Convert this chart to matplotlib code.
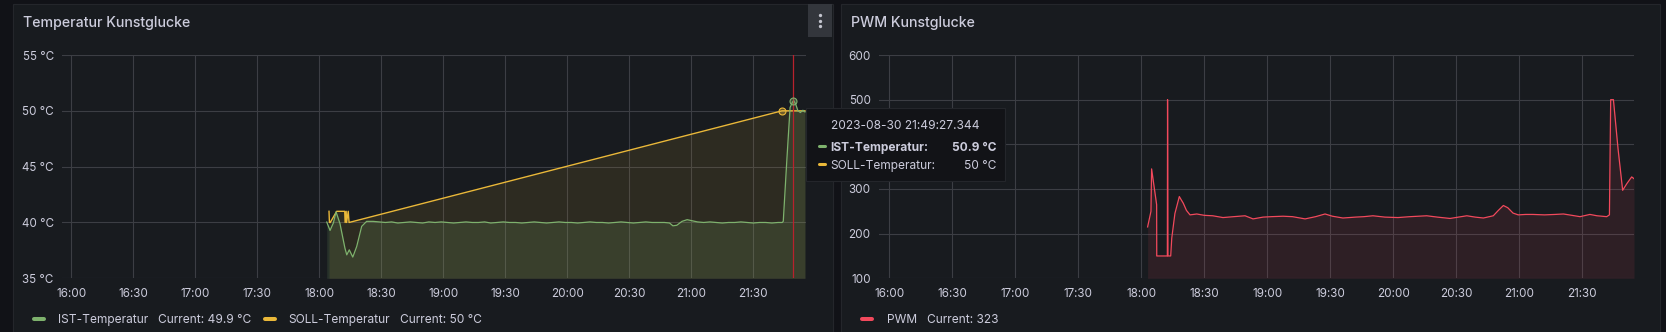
import matplotlib.pyplot as plt
from matplotlib.lines import Line2D
from matplotlib.patches import Rectangle
from matplotlib.ticker import FuncFormatter

# time axis: minutes after 16:00 on 2023-08-30
ist_time = [123.6, 125.2, 126.8, 128.1, 130.0, 132.4, 133.3, 134.5, 136.2, 138.1, 140.5, 142.9,
            146, 149, 152, 155, 158, 161, 164, 167, 170, 173,
            176, 179, 182, 185, 188, 191, 194, 197, 200, 203,
            206, 209, 212, 215, 218, 221, 224, 227, 230, 233,
            236, 239, 242, 245, 248, 251, 254, 257, 260, 263,
            266, 269, 272, 275, 278, 281, 284, 287,
            289.5, 291.1, 293.0, 295.5, 298.0, 300.5, 303,
            306, 309, 312, 315, 318, 321, 324, 327, 330, 333, 336, 339, 342,
            344.0, 344.5, 346.2, 347.8, 349.0, 349.6, 350.5, 351.6, 352.8, 354.0, 355.0]
ist_temp = [40.04, 39.29, 39.95, 40.95, 39.9, 37.7, 37.1, 37.55, 36.9, 37.85, 39.65, 40.1,
            40.10, 40.05, 40.00, 40.05, 39.95, 40.00, 40.05, 40.00, 39.95, 40.05,
            40.00, 40.05, 40.00, 39.95, 40.00, 40.05, 40.00, 40.00, 40.05, 39.95,
            40.00, 40.05, 40.00, 40.00, 39.95, 40.00, 40.05, 40.00, 39.95, 40.00,
            40.05, 40.00, 40.00, 39.95, 40.00, 40.05, 40.00, 40.00, 39.95, 40.00,
            40.05, 40.00, 39.95, 40.00, 40.05, 40.00, 40.00, 40.00,
            39.95, 39.7, 39.75, 40.1, 40.25, 40.15, 40.05,
            40.00, 40.05, 40.00, 39.95, 40.00, 40.00, 40.05, 40.00, 39.95, 40.00, 40.00, 39.95, 40.00,
            40.0, 40.1, 45.5, 50.3, 50.8, 50.9, 50.6, 50.0, 49.85, 50.05, 49.9]

soll_time = [124.7, 124.9, 125.3, 128.4, 132.3, 132.5, 133.0, 133.2, 134.0, 134.4, 343.9, 355.0]
soll_temp = [41.0, 40.0, 40.0, 41.0, 41.0, 40.0, 41.0, 40.0, 41.0, 40.0, 50.0, 50.0]

pwm_time = [123.0, 124.6, 124.9, 127.3, 127.35, 132.4, 132.5, 132.7, 134.0, 134.5, 136.0, 138.1,
            140.0, 141.5, 143.2, 146.4, 150, 154, 158.9, 164, 169.4, 173.2, 178, 182,
            187.5, 192, 198, 203, 207.5, 211, 216, 222, 226, 230.3, 236, 242.2,
            248, 255.9, 261, 267, 271, 275, 279, 282.9, 287.6, 290, 292.4, 294.5,
            297, 299.5, 303, 306.5, 312, 317, 321, 325, 328.9, 333.6, 337, 341.6,
            342.9, 343.5, 344.8, 347.0, 349.2, 351.2, 353.5, 354.6]
pwm_value = [215, 250, 345, 265, 150, 150, 500, 150, 150, 190, 245, 283,
             268, 252, 242, 244, 241, 240, 236, 238, 240, 233, 237, 238,
             239, 238, 233, 238, 244, 239, 235, 237, 238, 240, 237, 236,
             238, 240, 237, 234, 237, 240, 237, 235, 240, 252, 263, 258,
             246, 242, 243, 243, 242, 243, 244, 241, 238, 243, 240, 238,
             242, 500, 500, 390, 297, 312, 327, 323]

time_ticks = [0, 30, 60, 90, 120, 150, 180, 210, 240, 270, 300, 330]
temp_ticks = [35, 40, 45, 50, 55]
pwm_ticks = [100, 200, 300, 400, 500, 600]

hover_time = 349.45
hover_label = "2023-08-30 21:49:27.344"
hover_ist = 50.9
hover_soll = 50
soll_hover_time = 343.9

GREEN, YELLOW, RED = '#7EB26D', '#EAB839', '#F2495C'
PAGE, PANEL, GRID, TXT = '#111217', '#181b1f', '#3c3e44', '#ccccdc'

W, H = 1666, 332
plt.rcParams['font.family'] = ['Inter', 'DejaVu Sans']
fig = plt.figure(figsize=(W / 100, H / 100), dpi=100, facecolor=PAGE)


def fx(x):
    return x / W


def fy(y):
    return 1 - y / H


def rect(x0, y0, x1, y1, fc, ec='none', z=-1, lw=0.8):
    fig.add_artist(Rectangle((fx(x0), fy(y1)), fx(x1) - fx(x0), fy(y0) - fy(y1),
                             transform=fig.transFigure, fc=fc, ec=ec, lw=lw, zorder=z))


def swatch(x0, x1, y, color, lw=2.9, z=2):
    fig.add_artist(Line2D([fx(x0 + 2), fx(x1 - 2)], [fy(y), fy(y)], transform=fig.transFigure,
                          color=color, lw=lw, solid_capstyle='round', zorder=z))


# panels
rect(13, 4, 833, 345, PANEL, '#24262b')
rect(841, 4, 1660, 345, PANEL, '#24262b')
rect(808, 4, 832, 36.5, '#33363c', z=0)
for yy in (15.2, 20.6, 26.0):
    fig.add_artist(Line2D([fx(820)], [fy(yy)], marker='o', ms=2.4, color='#c4c5cf',
                          mec='none', transform=fig.transFigure))

fig.text(fx(22.7), fy(26.7), "Temperatur Kunstglucke", color=TXT, fontsize=10.2,
         fontweight='medium', va='baseline')
fig.text(fx(850.7), fy(26.7), "PWM Kunstglucke", color=TXT, fontsize=10.2,
         fontweight='medium', va='baseline')


def hhmm(m, pos=None):
    m = int(round(m))
    return f"{16 + m // 60:02d}:{m % 60:02d}"


def style(ax, xlim, ylim, yticks, yfmt):
    ax.set_facecolor('none')
    ax.set_xlim(*xlim)
    ax.set_ylim(*ylim)
    ax.set_xticks(time_ticks)
    ax.set_yticks(yticks)
    ax.xaxis.set_major_formatter(FuncFormatter(hhmm))
    ax.yaxis.set_major_formatter(FuncFormatter(yfmt))
    ax.grid(True, color=GRID, lw=0.8)
    ax.set_axisbelow(True)
    for s in ax.spines.values():
        s.set_visible(False)
    ax.tick_params(length=0, colors=TXT, labelsize=8.4)
    ax.tick_params(axis='x', pad=7)
    ax.tick_params(axis='y', pad=6)


ax1 = fig.add_axes([fx(62), fy(278.3), fx(806) - fx(62), fy(55) - fy(278.3)])
style(ax1, (-4.5, 355.5), (35, 55), temp_ticks, lambda v, p: f"{v:.0f} °C")
ax1.fill_between(soll_time, soll_temp, 35, color=YELLOW, alpha=0.10, lw=0)
ax1.fill_between(ist_time, ist_temp, 35, color=GREEN, alpha=0.15, lw=0)
ax1.plot(soll_time, soll_temp, color=YELLOW, lw=1.0)
ax1.plot(ist_time, ist_temp, color=GREEN, lw=0.9)
ax1.axvline(hover_time, color='#b8222d', lw=0.9)
ax1.plot([soll_hover_time], [hover_soll], 'o', ms=5, mfc=(0.92, 0.72, 0.22, 0.35), mec=YELLOW, mew=0.8)
ax1.plot([hover_time], [hover_ist], 'o', ms=5, mfc=(0.49, 0.70, 0.43, 0.35), mec=GREEN, mew=0.8)

ax2 = fig.add_axes([fx(879), fy(278.3), fx(1634) - fx(879), fy(55) - fy(278.3)])
style(ax2, (-4.9, 354.6), (100, 600), pwm_ticks, lambda v, p: f"{v:.0f}")
ax2.fill_between(pwm_time, pwm_value, 100, color=RED, alpha=0.10, lw=0)
ax2.plot(pwm_time, pwm_value, color=RED, lw=0.9)

# legends
swatch(32, 46, 319, GREEN)
fig.text(fx(58), fy(322.7), "IST-Temperatur", color=TXT, fontsize=8.6, va='baseline')
fig.text(fx(158), fy(322.7), f"Current: {ist_temp[-1]:.1f} °C", color=TXT, fontsize=8.6, va='baseline')
swatch(263, 277, 319, YELLOW)
fig.text(fx(288), fy(322.7), "SOLL-Temperatur", color=TXT, fontsize=8.6, va='baseline')
fig.text(fx(400), fy(322.7), f"Current: {soll_temp[-1]:.0f} °C", color=TXT, fontsize=8.6, va='baseline')
swatch(860, 874, 319, RED)
fig.text(fx(887), fy(322.7), "PWM", color=TXT, fontsize=8.6, va='baseline')
fig.text(fx(927), fy(322.7), f"Current: {pwm_value[-1]:.0f}", color=TXT, fontsize=8.6, va='baseline')

# tooltip
rect(806, 108, 1005, 181, '#121317', '#24262b', z=5)
fig.text(fx(905.5), fy(129.3), hover_label, color=TXT, fontsize=8.6, ha='center', va='baseline', zorder=6)
swatch(817, 827, 146.2, GREEN, lw=2.2, z=6)
fig.text(fx(830), fy(151), "IST-Temperatur:", color=TXT, fontsize=8.6, fontweight='bold', va='baseline', zorder=6)
fig.text(fx(996), fy(151), f"{hover_ist} °C", color=TXT, fontsize=8.6, fontweight='bold', ha='right',
         va='baseline', zorder=6)
swatch(817, 827, 164.2, YELLOW, lw=2.2, z=6)
fig.text(fx(830), fy(169), "SOLL-Temperatur:", color=TXT, fontsize=8.6, va='baseline', zorder=6)
fig.text(fx(996), fy(169), f"{hover_soll} °C", color=TXT, fontsize=8.6, ha='right', va='baseline', zorder=6)

fig.savefig('out.png', dpi=100, facecolor=PAGE)
